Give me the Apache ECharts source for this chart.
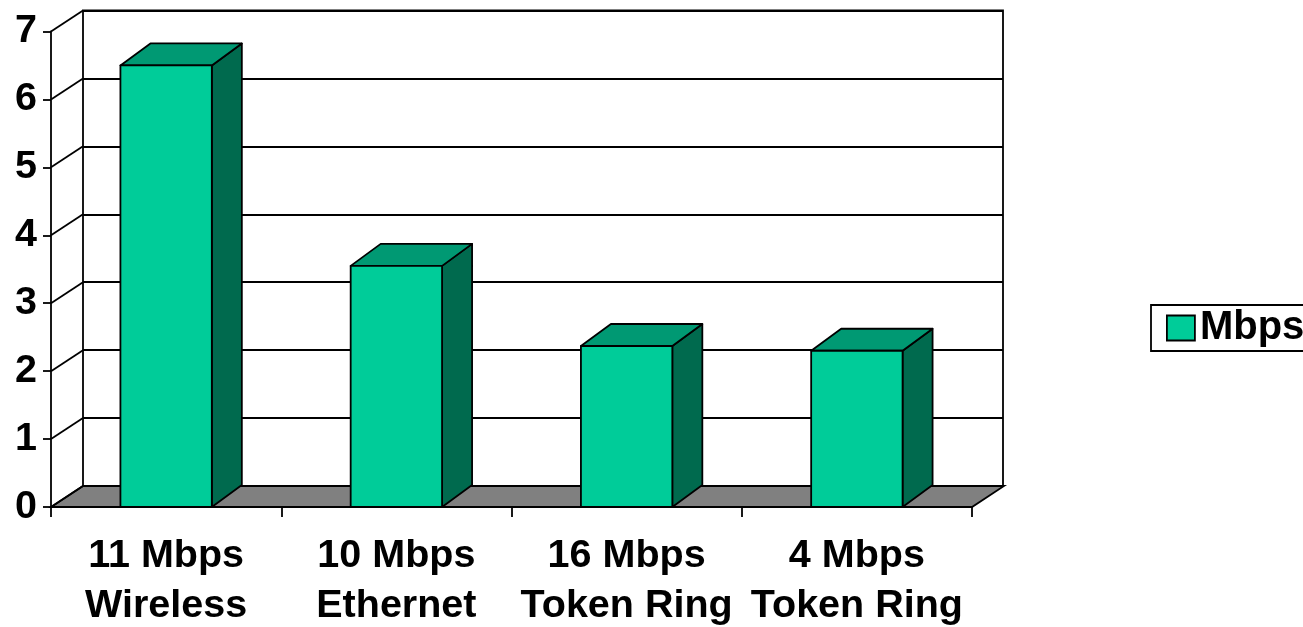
<!DOCTYPE html>
<html>
<head>
<meta charset="utf-8">
<script src="https://cdn.jsdelivr.net/npm/echarts@6/dist/echarts.min.js"></script>
<style>html,body{margin:0;padding:0;background:#fff;}#c{width:1303px;height:627px;}</style>
</head>
<body>
<div id="c"></div>
<script>
const categories = ['11 Mbps\nWireless', '10 Mbps\nEthernet', '16 Mbps\nToken Ring', '4 Mbps\nToken Ring'];
const mbps = [6.5, 3.55, 2.37, 2.3];
const yTickValues = [0, 1, 2, 3, 4, 5, 6, 7];
const seriesName = 'Mbps';

const FLOOR_DX = 32, FLOOR_DY = -21;
const BAR_DX = 30, BAR_DY = -22;
const FONT = '"Liberation Sans", Arial, sans-serif';
const LW = 1.8;

const chart = echarts.init(document.getElementById('c'), null, {renderer: 'canvas'});

const option = {
  animation: false,
  backgroundColor: '#fff',
  grid: [
    {left: 51, right: 331, top: 31.5, bottom: 120, containLabel: false, outerBoundsMode: 'none'},
    {left: 83, right: 300, top: 10.5, bottom: 141, containLabel: false, outerBoundsMode: 'none',
     show: true, borderColor: '#000', borderWidth: LW, backgroundColor: 'transparent'}
  ],
  xAxis: [
    {
      gridIndex: 0, type: 'category', data: categories, boundaryGap: true,
      axisLine: {show: true, lineStyle: {color: '#000', width: LW}},
      axisTick: {show: true, alignWithLabel: false, length: 10, lineStyle: {color: '#000', width: LW}},
      axisLabel: {color: '#000', fontFamily: FONT, fontWeight: 'bold', fontSize: 39.5, lineHeight: 50, margin: 24, interval: 0},
      z: 10
    },
    {gridIndex: 1, type: 'category', data: categories, show: false}
  ],
  yAxis: [
    {
      gridIndex: 0, type: 'value', min: 0, max: 7, interval: 1,
      axisLine: {show: true, lineStyle: {color: '#000', width: LW}},
      axisTick: {show: true, length: 8, lineStyle: {color: '#000', width: LW}},
      axisLabel: {color: '#000', fontFamily: FONT, fontWeight: 'bold', fontSize: 39.5, margin: 14, padding: [8, 0, 0, 0]},
      splitLine: {show: false},
      z: 10
    },
    {
      gridIndex: 1, type: 'value', min: 0, max: 7, interval: 1,
      axisLine: {show: false}, axisTick: {show: false}, axisLabel: {show: false},
      splitLine: {show: true, lineStyle: {color: '#000', width: LW}}
    }
  ],
  legend: {
    show: true,
    left: 1151, top: 305,
    orient: 'vertical',
    borderColor: '#000', borderWidth: LW,
    padding: [3, 10, 3, 15],
    itemWidth: 28, itemHeight: 25,
    textStyle: {color: '#000', fontFamily: FONT, fontWeight: 'bold', fontSize: 40, lineHeight: 40},
    data: [{name: seriesName, icon: 'rect', itemStyle: {color: '#00CC99', borderColor: '#000', borderWidth: LW}}]
  },
  series: [
    {
      type: 'custom', name: 'floor', xAxisIndex: 0, yAxisIndex: 0, z: 2, silent: true,
      data: [[0, 0]],
      renderItem: function (params, api) {
        const cs = params.coordSys;
        const y0 = api.coord([0, 0])[1];
        const xl = cs.x, xr = cs.x + cs.width;
        return {
          type: 'polygon',
          shape: {points: [[xl, y0], [xr, y0], [xr + FLOOR_DX, y0 + FLOOR_DY], [xl + FLOOR_DX, y0 + FLOOR_DY]]},
          style: {fill: '#808080', stroke: '#000', lineWidth: LW}
        };
      }
    },
    {
      type: 'custom', name: 'sidegrid', xAxisIndex: 0, yAxisIndex: 0, z: 3, silent: true,
      data: yTickValues.map(v => [0, v]),
      renderItem: function (params, api) {
        const cs = params.coordSys;
        const y = api.coord([0, api.value(1)])[1];
        return {
          type: 'line',
          shape: {x1: cs.x, y1: y, x2: cs.x + FLOOR_DX, y2: y + FLOOR_DY},
          style: {stroke: '#000', lineWidth: LW}
        };
      }
    },
    {
      type: 'custom', name: seriesName, xAxisIndex: 0, yAxisIndex: 0, z: 5,
      itemStyle: {color: '#00CC99', borderColor: '#000'},
      data: mbps.map((v, i) => [i, v]),
      renderItem: function (params, api) {
        const idx = api.value(0), v = api.value(1);
        const base = api.coord([idx, 0]);
        const top = api.coord([idx, v]);
        const w = api.size([1, 0])[0] * 0.397;
        const x0 = base[0] - w / 2, x1 = base[0] + w / 2;
        const y0 = base[1], yt = top[1];
        const stroke = {stroke: '#000', lineWidth: LW, lineJoin: 'round'};
        return {
          type: 'group',
          children: [
            {type: 'polygon', shape: {points: [[x1, yt], [x1 + BAR_DX, yt + BAR_DY], [x1 + BAR_DX, y0 + BAR_DY], [x1, y0]]},
             style: Object.assign({fill: '#006A4E'}, stroke)},
            {type: 'polygon', shape: {points: [[x0, yt], [x1, yt], [x1 + BAR_DX, yt + BAR_DY], [x0 + BAR_DX, yt + BAR_DY]]},
             style: Object.assign({fill: '#009973'}, stroke)},
            {type: 'rect', shape: {x: x0, y: yt, width: w, height: y0 - yt},
             style: Object.assign({fill: '#00CC99'}, stroke)}
          ]
        };
      }
    }
  ]
};
chart.setOption(option);
</script>
</body>
</html>
